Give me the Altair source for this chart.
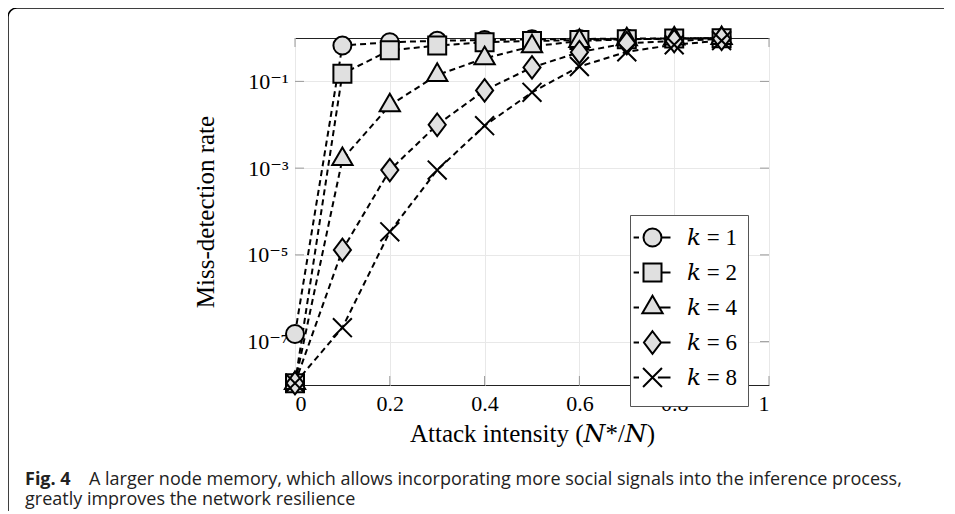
import altair as alt
import pandas as pd

# ---------------- data ----------------
x_vals = [0.0, 0.1, 0.2, 0.3, 0.4, 0.5, 0.6, 0.7, 0.8, 0.9]
legend_labels = ["𝑘 = 1", "𝑘 = 2", "𝑘 = 4", "𝑘 = 6", "𝑘 = 8"]
k1 = [1.5e-7, 0.67, 0.80, 0.86, 0.90, 0.93, 0.95, 0.97, 0.98, 0.99]
k2 = [1.1e-8, 0.15, 0.52, 0.67, 0.80, 0.85, 0.90, 0.94, 0.97, 0.99]
k4 = [1.1e-8, 0.0016, 0.028, 0.14, 0.34, 0.64, 0.85, 0.93, 0.97, 0.99]
k6 = [1.1e-8, 1.3e-5, 9e-4, 0.010, 0.062, 0.21, 0.47, 0.76, 0.85, 0.96]
k8 = [1.1e-8, 2.1e-7, 3.4e-5, 9e-4, 0.0095, 0.056, 0.22, 0.48, 0.70, 0.87]
series = [k1, k2, k4, k6, k8]

x_tick_vals = [0, 0.2, 0.4, 0.6, 0.8, 1]
y_tick_vals = [1e-7, 1e-5, 1e-3, 1e-1]
y_tick_exps = [-7, -5, -3, -1]
y_tick_labels = ["10⁻⁷", "10⁻⁵", "10⁻³", "10⁻¹"]

x_title = "Attack intensity (𝑁*/𝑁)"
y_title = "Miss-detection rate"
caption_bold = "Fig. 4"
caption_line1 = "A larger node memory, which allows incorporating more social signals into the inference process,"
caption_line2 = "greatly improves the network resilience"

# marker shapes (custom paths, unit = sqrt(size)/2)
marker_paths = [
    "M1,0A1,1,0,1,1,-1,0A1,1,0,1,1,1,0Z",
    "M-1,-1H1V1H-1Z",
    "M0,-1.3L1.13,0.65L-1.13,0.65Z",
    "M0,-1.25L0.95,0L0,1.25L-0.95,0Z",
    "M-1.05,-1.05L1.05,1.05M-1.05,1.05L1.05,-1.05",
]
right_edges = [1.0, 1.0, 0.75, 0.95, 0.6]
# legend symbols: equal vertical extent (move-only points), side dashes, marker
legend_paths = [
    "M0,-1.45M0,1.45M-2.1,0H-1.5M%.2f,0H2.0" % e + p
    for p, e in zip(marker_paths, right_edges)
]

rows = []
for name, vals in zip(legend_labels, series):
    for xv, yv in zip(x_vals, vals):
        rows.append({"x": xv, "y": yv, "k": name})
df = pd.DataFrame(rows)

W, H = 474, 347
SERIF = "Liberation Serif, DejaVu Serif"
MSIZE = 324
LEG_X, LEG_Y = 335, 177

label_expr = ""
for e, lab in zip(y_tick_exps, y_tick_labels):
    label_expr += "abs(log(datum.value)/LN10 - (%d)) < 0.01 ? '%s' : " % (e, lab)
label_expr += "''"

X = alt.X(
    "x:Q",
    scale=alt.Scale(domain=[0, 1], nice=False),
    axis=alt.Axis(values=x_tick_vals, format="~g", title=x_title,
                  labelPadding=8, titlePadding=7),
)
Y = alt.Y(
    "y:Q",
    scale=alt.Scale(type="log", domain=[1e-8, 1], nice=False),
    axis=alt.Axis(values=y_tick_vals, labelExpr=label_expr, title=y_title,
                  labelPadding=7, titlePadding=28),
)

lines = alt.Chart(df).mark_line(
    color="black", strokeWidth=2, strokeDash=[6, 4]
).encode(x=X, y=Y, detail="k:N")

points = alt.Chart(df).mark_point(
    filled=True, fill="#e0e0e0", stroke="black", strokeWidth=2, size=MSIZE, opacity=1
).encode(
    x=X, y=Y,
    shape=alt.Shape("k:N", scale=alt.Scale(domain=legend_labels, range=marker_paths),
                    legend=None),
)

common_leg = dict(
    title=None, orient="none", legendX=LEG_X, legendY=LEG_Y,
    symbolSize=MSIZE, symbolOpacity=1, symbolStrokeWidth=2,
    labelFont=SERIF, labelFontSize=23, labelColor="black",
    labelOffset=23, padding=11, rowPadding=0,
)

# legend pass 1: white box, grey symbol fills and the labels
legend_fill = alt.Chart(df).transform_filter("false").mark_point(
    filled=True, color="#e0e0e0", size=MSIZE
).encode(
    x=X, y=Y,
    shape=alt.Shape(
        "k:N",
        scale=alt.Scale(domain=legend_labels, range=legend_paths),
        legend=alt.Legend(strokeColor="#555", fillColor="white",
                          zindex=1, **common_leg),
    ),
)
# legend pass 2: black symbol outlines only (blank labels keep row heights)
legend_stroke = alt.Chart(df).transform_filter("false").mark_point(
    filled=False, color="black", strokeWidth=2, size=MSIZE
).encode(
    x=X, y=Y,
    shape=alt.Shape(
        "k:N",
        scale=alt.Scale(domain=legend_labels, range=legend_paths),
        legend=alt.Legend(zindex=2, labelExpr="'\u2003'", **common_leg),
    ),
)

xt_df = pd.DataFrame({"x": x_tick_vals})
yt_df = pd.DataFrame({"y": y_tick_vals})
tick_col = "#999999"
xt_bot = alt.Chart(xt_df).mark_rule(color=tick_col, strokeWidth=1).encode(
    x=X, y=alt.value(H), y2=alt.value(H - 9))
xt_top = alt.Chart(xt_df).mark_rule(color=tick_col, strokeWidth=1).encode(
    x=X, y=alt.value(0), y2=alt.value(9))
yt_left = alt.Chart(yt_df).mark_rule(color=tick_col, strokeWidth=1).encode(
    y=Y, x=alt.value(0), x2=alt.value(9))
yt_right = alt.Chart(yt_df).mark_rule(color=tick_col, strokeWidth=1).encode(
    y=Y, x=alt.value(W), x2=alt.value(W - 9))

one = pd.DataFrame({"a": [0]})
frame = alt.Chart(one).mark_rect(
    fill=None, stroke="black", strokeWidth=1.5, cornerRadius=9
).encode(x=alt.value(-287), x2=alt.value(W + 400),
         y=alt.value(-30), y2=alt.value(H + 400))

cap_font = "Open Sans"
cap_size = 18
cap_b = alt.Chart(pd.DataFrame({"t": [caption_bold]})).mark_text(
    align="left", baseline="alphabetic", font=cap_font, fontSize=cap_size,
    fontWeight="bold", color="#222"
).encode(text="t:N", x=alt.value(-270), y=alt.value(447))
cap_1 = alt.Chart(pd.DataFrame({"t": [caption_line1]})).mark_text(
    align="left", baseline="alphabetic", font=cap_font, fontSize=cap_size, color="#222"
).encode(text="t:N", x=alt.value(-206), y=alt.value(447))
cap_2 = alt.Chart(pd.DataFrame({"t": [caption_line2]})).mark_text(
    align="left", baseline="alphabetic", font=cap_font, fontSize=cap_size, color="#222"
).encode(text="t:N", x=alt.value(-270), y=alt.value(467))

chart = alt.layer(
    frame, xt_bot, xt_top, yt_left, yt_right, lines, points,
    legend_fill, legend_stroke, cap_b, cap_1, cap_2
).resolve_scale(shape="independent").properties(
    width=W, height=H,
    padding={"left": 287, "top": 30, "right": 175, "bottom": 126},
    autosize=alt.AutoSizeParams(type="none"),
).configure_view(stroke="#222", strokeWidth=1).configure_axis(
    domain=False, ticks=False, grid=True, gridColor="#e8e8e8",
    labelFont=SERIF, labelFontSize=22, labelColor="black",
    titleFont=SERIF, titleFontSize=25, titleFontWeight="normal", titleColor="black",
)

chart.save("out.html", embed_options={"renderer": "svg", "actions": False})
